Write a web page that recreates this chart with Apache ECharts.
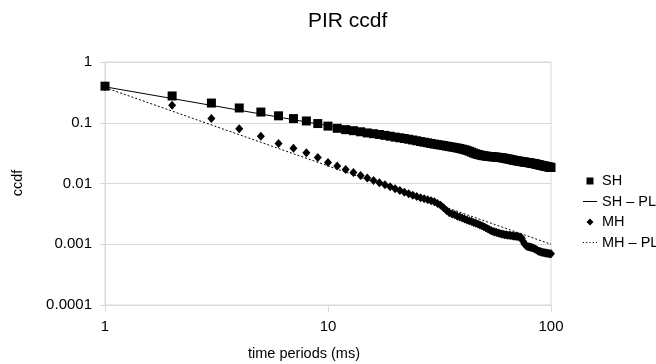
<!DOCTYPE html>
<html>
<head>
<meta charset="utf-8">
<script src="https://cdn.jsdelivr.net/npm/echarts@6/dist/echarts.min.js"></script>
<style>
    html, body { margin: 0; padding: 0; background: #fff; }
    #chart { width: 656px; height: 364px; }
</style>
</head>
<body>
<div id="chart"></div>
<script>
// time periods (ms), 1..100
var timePeriods = [1, 2, 3, 4, 5, 6, 7, 8, 9, 10, 11, 12, 13, 14, 15, 16, 17, 18, 19, 20,
    21, 22, 23, 24, 25, 26, 27, 28, 29, 30, 31, 32, 33, 34, 35, 36, 37, 38, 39, 40,
    41, 42, 43, 44, 45, 46, 47, 48, 49, 50, 51, 52, 53, 54, 55, 56, 57, 58, 59, 60,
    61, 62, 63, 64, 65, 66, 67, 68, 69, 70, 71, 72, 73, 74, 75, 76, 77, 78, 79, 80,
    81, 82, 83, 84, 85, 86, 87, 88, 89, 90, 91, 92, 93, 94, 95, 96, 97, 98, 99, 100];

var shValues = [0.40, 0.276, 0.211, 0.175, 0.150, 0.130, 0.117, 0.107, 0.097, 0.088,
    0.081, 0.077, 0.074, 0.071, 0.068, 0.066, 0.064, 0.062, 0.060, 0.058,
    0.0565, 0.055, 0.0535, 0.052, 0.0505, 0.049, 0.0478, 0.0467, 0.0455, 0.0445,
    0.0437, 0.0429, 0.0421, 0.0413, 0.0405, 0.0398, 0.0391, 0.0384, 0.0376, 0.0368,
    0.0360, 0.0351, 0.0340, 0.0328, 0.0317, 0.0308, 0.0301, 0.0295, 0.0290, 0.0286,
    0.0283, 0.0280, 0.0278, 0.0276, 0.0274, 0.0273, 0.0271, 0.0270, 0.0268, 0.0266,
    0.0263, 0.0260, 0.0257, 0.0254, 0.0251, 0.0248, 0.0245, 0.0242, 0.0239, 0.0237,
    0.0235, 0.0233, 0.0231, 0.0229, 0.0227, 0.0225, 0.0224, 0.0222, 0.0221, 0.0219,
    0.0217, 0.0215, 0.0214, 0.0212, 0.0210, 0.0208, 0.0206, 0.0204, 0.0202, 0.0200,
    0.0198, 0.0196, 0.0194, 0.0193, 0.0191, 0.0190, 0.0188, 0.0186, 0.0185, 0.0184];

var mhValues = [0.40, 0.194, 0.117, 0.080, 0.060, 0.0456, 0.038, 0.032, 0.0267, 0.0222,
    0.0195, 0.0170, 0.0152, 0.0136, 0.0123, 0.0112, 0.0103, 0.0095, 0.0088, 0.0082,
    0.0077, 0.0072, 0.0068, 0.0064, 0.0061, 0.0058, 0.0056, 0.0054, 0.0052, 0.0050,
    0.0047, 0.0044, 0.0040, 0.0036, 0.0033, 0.00315, 0.00305, 0.0029, 0.0028, 0.0027,
    0.0026, 0.0025, 0.00243, 0.00236, 0.00229, 0.00222, 0.00215, 0.00208, 0.00201, 0.00194,
    0.00187, 0.00180, 0.00173, 0.00167, 0.00162, 0.00159, 0.00156, 0.00153, 0.00150, 0.00148,
    0.00146, 0.00144, 0.00143, 0.00141, 0.00140, 0.00139, 0.00138, 0.00137, 0.00136, 0.00135,
    0.00134, 0.00132, 0.00130, 0.00125, 0.00112, 0.00102, 0.00096, 0.00093, 0.00091, 0.00090,
    0.00089, 0.00088, 0.00087, 0.00085, 0.00083, 0.00081, 0.00079, 0.00077, 0.00076, 0.00075,
    0.00074, 0.00073, 0.00073, 0.00072, 0.00072, 0.00071, 0.00071, 0.00070, 0.00070, 0.00070];

// power-law fits: end points of straight lines on log-log axes
var shPlX = [1, 100];
var shPlY = [0.39, 0.0205];
var mhPlX = [1, 100];
var mhPlY = [0.38, 0.001];

var xTickLabels = { 1: '1', 10: '10', 100: '100' };
var yTickLabels = { 1: '1', 0.1: '0.1', 0.01: '0.01', 0.001: '0.001', 0.0001: '0.0001' };

var pairs = function (xs, ys) {
    return xs.map(function (x, i) { return [x, ys[i]]; });
};

var fontFamily = '"Liberation Sans", Arial, sans-serif';
var gridColor = '#d9d9d9';

// legend icons (drawn at the legend's item box, aspect kept)
var iconSquare = 'path://M0,0h1v1h-1z';
var iconDiamond = 'path://M1,0L2,1L1,2L0,1z';
var iconSolid = 'path://M0,0h14v1h-14z';
var iconDotted = 'path://M0,0h1v1h-1zM3,0h1v1h-1zM6,0h1v1h-1zM9,0h1v1h-1zM12,0h1v1h-1z';

var myChart = echarts.init(document.getElementById('chart'), null, { renderer: 'canvas' });
var option = {
    animation: false,
    backgroundColor: '#fff',
    textStyle: { fontFamily: fontFamily, color: '#000' },
    title: {
        text: 'PIR ccdf',
        left: 303,
        top: 6,
        textStyle: { fontFamily: fontFamily, fontSize: 21, fontWeight: 'normal', color: '#000' }
    },
    grid: {
        left: 105,
        top: 62,
        width: 446,
        height: 243,
        show: true,
        borderColor: gridColor,
        borderWidth: 1,
        containLabel: false
    },
    legend: {
        orient: 'vertical',
        left: 578,
        top: 166,
        itemWidth: 14,
        itemHeight: 7,
        itemGap: 0.5,
        data: [
            { name: 'SH', icon: iconSquare },
            { name: 'SH – PL', icon: iconSolid },
            { name: 'MH', icon: iconDiamond },
            { name: 'MH – PL', icon: iconDotted }
        ],
        itemStyle: { color: '#000', borderWidth: 0 },
        lineStyle: { width: 0 },
        textStyle: { fontFamily: fontFamily, fontSize: 14.5, color: '#000', lineHeight: 20 }
    },
    xAxis: {
        type: 'log',
        logBase: 10,
        min: 1,
        max: 100,
        axisLine: { show: true, lineStyle: { color: gridColor } },
        axisTick: { show: true, length: 7, lineStyle: { color: gridColor } },
        splitLine: { show: false },
        axisLabel: {
            margin: 14,
            fontSize: 15,
            color: '#000',
            fontFamily: fontFamily,
            formatter: function (v) { return xTickLabels[Math.round(v)] || ''; }
        }
    },
    yAxis: {
        type: 'log',
        logBase: 10,
        min: 0.0001,
        max: 1,
        axisLine: { show: true, lineStyle: { color: gridColor } },
        axisTick: { show: true, length: 5, lineStyle: { color: gridColor } },
        splitLine: { show: true, lineStyle: { color: gridColor } },
        axisLabel: {
            margin: 13,
            fontSize: 15,
            color: '#000',
            fontFamily: fontFamily,
            formatter: function (v) {
                var key = Number(v.toPrecision(1));
                return yTickLabels[key] || '';
            }
        }
    },
    graphic: [
        {
            type: 'text',
            left: 248,
            top: 346,
            style: { text: 'time periods (ms)', font: '14.5px ' + fontFamily, fill: '#000' }
        },
        {
            type: 'text',
            x: 18,
            y: 183,
            rotation: Math.PI / 2,
            style: {
                text: 'ccdf', font: '14.5px ' + fontFamily, fill: '#000',
                align: 'center', verticalAlign: 'middle'
            }
        }
    ],
    series: [
        {
            name: 'SH – PL',
            type: 'line',
            data: pairs(shPlX, shPlY),
            symbol: 'none',
            lineStyle: { color: '#000', width: 1, type: 'solid' },
            itemStyle: { color: '#000' },
            z: 2
        },
        {
            name: 'MH – PL',
            type: 'line',
            data: pairs(mhPlX, mhPlY),
            symbol: 'none',
            lineStyle: { color: '#000', width: 1, type: [2, 2] },
            itemStyle: { color: '#000' },
            z: 2
        },
        {
            name: 'MH',
            type: 'scatter',
            data: pairs(timePeriods, mhValues),
            symbol: 'diamond',
            symbolSize: [8, 9],
            itemStyle: { color: '#000', opacity: 1 },
            z: 3
        },
        {
            name: 'SH',
            type: 'scatter',
            data: pairs(timePeriods, shValues),
            symbol: 'rect',
            symbolSize: 9,
            itemStyle: { color: '#000', opacity: 1 },
            z: 4
        }
    ]
};
myChart.setOption(option, true);
</script>
</body>
</html>
